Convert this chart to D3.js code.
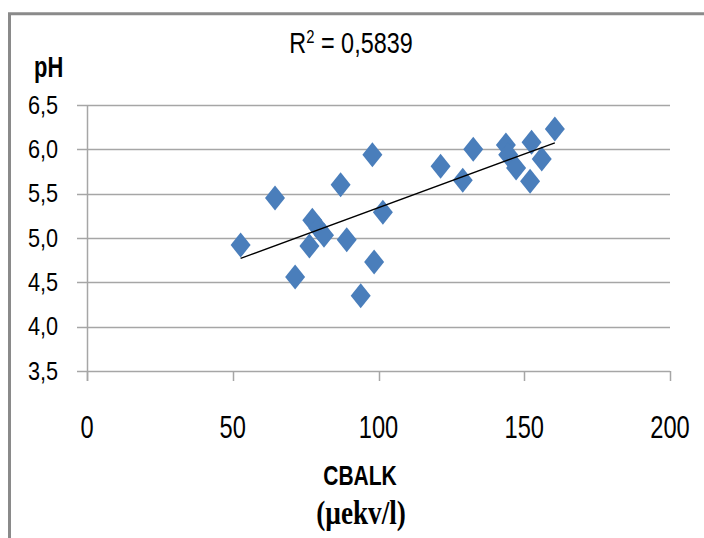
<!DOCTYPE html>
<html>
<head>
<meta charset="utf-8">
<script src="https://cdn.jsdelivr.net/npm/d3@7"></script>
<style>
	body { margin: 0; background: #fff; }
	svg { display: block; }
</style>
</head>
<body>
<div id="chart"></div>
<script>
// CBALK (µekv/l) vs pH
const cbalk = [52.7, 64.5, 71.4, 76.3, 77.3, 79.4, 81.3, 87.0, 89.1, 93.9, 97.9, 98.5, 101.5,
	121.3, 128.9, 132.5, 143.7, 144.5, 147.2, 152.0, 152.5, 156.0, 160.5];
const ph = [4.92, 5.45, 4.56, 4.91, 5.20, 5.11, 5.03, 5.60, 4.98, 4.35, 5.94, 4.73, 5.29,
	5.81, 5.65, 6.00, 6.05, 5.94, 5.79, 5.64, 6.08, 5.89, 6.23];

const xTicks = [0, 50, 100, 150, 200];
const yTicks = [3.5, 4.0, 4.5, 5.0, 5.5, 6.0, 6.5];

// trend line
const trendSlope = 0.01209;
const trendIntercept = 4.133;
const r2Text = '0,5839';

const width = 704;
const height = 538;

const sans = "'Liberation Sans', Arial, sans-serif";
const serif = "'Liberation Serif', 'DejaVu Serif', serif";

const svg = d3.select('#chart').append('svg')
	.attr('width', width)
	.attr('height', height);

// squeezed text, like the narrow font of the original
const addText = (sel, tx, ty, sx, size, str, bold, family) => {
	const t = sel.append('text')
		.attr('transform', 'translate(' + tx + ',' + ty + ') scale(' + sx + ',1)')
		.attr('text-anchor', 'middle')
		.attr('font-family', family || sans)
		.attr('font-size', size)
		.attr('fill', '#000');
	if (bold) t.attr('font-weight', 'bold');
	if (str !== null) t.text(str);
	return t;
};

// outer frame
svg.append('path')
	.attr('d', 'M9.5,' + height + 'V13.8H' + width)
	.style('fill', 'none')
	.style('stroke', '#8a8a8a')
	.style('stroke-width', 3);

const x = d3.scaleLinear().domain([0, 200]).range([87, 670]);
const y = d3.scaleLinear().domain([3.5, 6.5]).range([371, 105]);

const fmt = d => d3.format('.1f')(d).replace('.', ',');

// gridlines
svg.append('g')
	.selectAll('line')
	.data(yTicks)
	.enter()
	.append('line')
	.attr('x1', x(0) - 10)
	.attr('x2', x(200))
	.attr('y1', d => Math.round(y(d)) + 0.5)
	.attr('y2', d => Math.round(y(d)) + 0.5)
	.style('stroke', '#a6a6a6')
	.style('stroke-width', 1.5);

// y axis line
svg.append('line')
	.attr('x1', x(0) + 0.5).attr('x2', x(0) + 0.5)
	.attr('y1', y(6.5)).attr('y2', y(3.5) + 10)
	.style('stroke', '#a6a6a6')
	.style('stroke-width', 1.5);

// x ticks
svg.append('g')
	.selectAll('line')
	.data(xTicks)
	.enter()
	.append('line')
	.attr('x1', d => Math.round(x(d)) + 0.5)
	.attr('x2', d => Math.round(x(d)) + 0.5)
	.attr('y1', y(3.5))
	.attr('y2', y(3.5) + 10)
	.style('stroke', '#a6a6a6')
	.style('stroke-width', 1.5);

// y tick labels
const yLab = svg.append('g');
yTicks.forEach(d => addText(yLab, 43, y(d) + 8.5, 0.85, 25.5, fmt(d)));

// x tick labels
const xLab = svg.append('g');
xTicks.forEach(d => addText(xLab, x(d), 438, 0.74, 32, String(d)));

const xMin = d3.min(cbalk);
const xMax = d3.max(cbalk);

// diamonds
const pts = cbalk.map((c, i) => ({ c: c, p: ph[i] }));
svg.append('g')
	.selectAll('path')
	.data(pts)
	.enter()
	.append('path')
	.attr('d', 'M0,-12.5L10,0L0,12.5L-10,0Z')
	.attr('transform', d => 'translate(' + x(d.c) + ',' + y(d.p) + ')')
	.style('fill', '#4a7ebb');

// trend line
svg.append('line')
	.attr('x1', x(xMin))
	.attr('y1', y(trendIntercept + trendSlope * xMin))
	.attr('x2', x(xMax))
	.attr('y2', y(trendIntercept + trendSlope * xMax))
	.style('stroke', '#000')
	.style('stroke-width', 1.3);

// R squared
const r2 = addText(svg, 351, 53, 0.78, 30, null);
r2.append('tspan').text('R');
r2.append('tspan').attr('dy', -10).attr('font-size', 19).text('2');
r2.append('tspan').attr('dy', 10).text(' = ' + r2Text);

// axis titles
addText(svg, 48.7, 76.7, 0.73, 30, 'pH', true);
addText(svg, 360, 485, 0.75, 28, 'CBALK', true);
addText(svg, 361, 524, 0.8, 34, '(µekv/l)', true, serif);
</script>
</body>
</html>
